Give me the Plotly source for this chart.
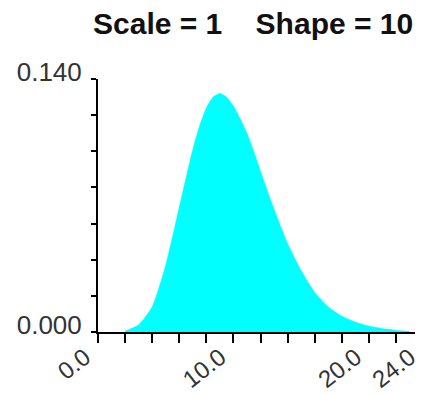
import plotly.graph_objects as go

# Values (density vs x)
x_values = [2, 3, 4, 5, 6, 7, 7.5, 8, 8.5, 9, 9.5, 10, 10.5, 11, 11.5, 12,
            13, 14, 15, 16, 17, 18, 19, 20, 21, 22, 23]
density = [0.0005, 0.004, 0.014, 0.037, 0.069, 0.101, 0.114, 0.124, 0.130,
           0.132, 0.130, 0.125, 0.118, 0.110, 0.100, 0.089, 0.068, 0.049,
           0.034, 0.022, 0.014, 0.0088, 0.0055, 0.0033, 0.0019, 0.0010, 0.0004]

x_tickvals = [0, 2, 4, 6, 8, 10, 12, 14, 16, 18, 20, 22, 24]
x_ticktext = ["0.0", "", "", "", "", "10.0", "", "", "", "", "20.0", "", "24.0"]
y_tickvals = [0, 0.02, 0.04, 0.06, 0.08, 0.10, 0.12, 0.14]
y_ticktext = ["0.000", "", "", "", "", "", "", "0.140"]
title_text = "Scale = 1\u00a0\u00a0\u00a0\u00a0Shape = 10"

# The page body has an 8px margin, so the figure is sized/offset to compensate
W, H = 415, 386

fig = go.Figure()
fig.add_trace(go.Scatter(
    x=x_values, y=density, mode="lines",
    line=dict(color="#00FFFF", width=0.5, shape="spline", smoothing=0.6),
    fill="tozeroy", fillcolor="#00FFFF", hoverinfo="skip",
))

fig.update_layout(
    width=W, height=H,
    margin=dict(l=90, r=0, t=71, b=62, autoexpand=False),
    paper_bgcolor="white", plot_bgcolor="white",
    showlegend=False,
    title=dict(text=title_text, x=85 / W, xanchor="left", xref="container",
               y=1 - 15 / H, yanchor="middle", yref="container",
               font=dict(family="Liberation Sans, Arial, sans-serif", size=30,
                         color="#111", weight="bold")),
    font=dict(family="Liberation Sans, Arial, sans-serif", size=26, color="#333"),
)
fig.update_xaxes(
    range=[0, 24], tickmode="array", tickvals=x_tickvals, ticktext=x_ticktext,
    tickangle=-38, ticks="outside", ticklen=9, tickwidth=2, tickcolor="black",
    showline=True, linecolor="black", linewidth=2, showgrid=False,
    zeroline=False, tickfont=dict(size=24, color="#333"),
    ticklabelshift=-13, ticklabelstandoff=-9,
    automargin=False, ticklabeloverflow="allow",
)
fig.update_yaxes(
    range=[0, 0.14], tickmode="array", tickvals=y_tickvals, ticktext=y_ticktext,
    ticks="outside", ticklen=5, tickwidth=2, tickcolor="black",
    showline=True, linecolor="black", linewidth=2, showgrid=False,
    zeroline=False, tickfont=dict(size=26, color="#333"), ticklabelshift=-7,
    ticklabelstandoff=4, automargin=False, ticklabeloverflow="allow",
)

fig.write_html("out.html")
